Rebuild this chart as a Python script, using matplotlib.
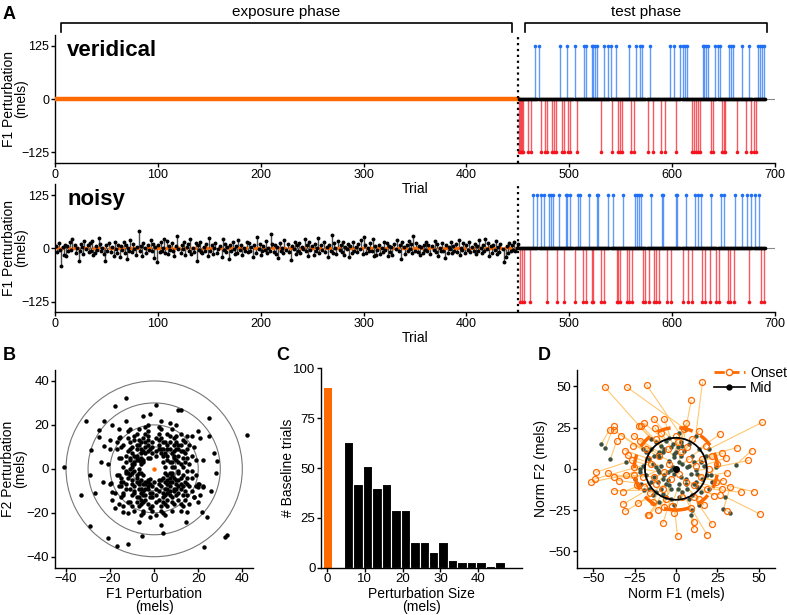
import numpy as np
import matplotlib.pyplot as plt
from matplotlib.patches import Circle, Ellipse
from matplotlib.lines import Line2D

plt.rcParams['font.family'] = ['Liberation Sans', 'DejaVu Sans']
plt.rcParams['axes.linewidth'] = 1.0

orange = '#FF6A00'
blue = '#1E6FF5'
red = '#F5141E'

# ---- panel A data ----
n_exposure = 450
test_first, test_last = 451, 690
test_shift = 125

ver_up = [467, 470, 491, 498, 505, 514, 516, 522, 523, 525, 527, 534, 538, 540, 545,
          558, 565, 569, 571, 578, 598, 602, 608, 610, 612, 614, 630, 631, 633, 635,
          642, 644, 646, 655, 657, 659, 668, 675, 683, 685, 687, 689]
ver_down = [451, 452, 453, 454, 455, 460, 463, 472, 476, 478, 483, 485, 487, 493, 495,
            499, 501, 507, 531, 541, 547, 549, 551, 560, 563, 576, 581, 589, 593, 604,
            619, 621, 623, 625, 627, 638, 640, 648, 650, 651, 663, 672, 677, 679, 681]
noi_up = [465, 469, 472, 475, 480, 482, 484, 490, 497, 498, 501, 508, 510, 519, 527,
          528, 538, 542, 552, 564, 566, 568, 570, 579, 590, 591, 604, 605, 613, 622,
          625, 628, 638, 647, 650, 661, 668, 673, 677, 680, 684]
noi_down = [452, 454, 456, 462, 478, 488, 495, 505, 513, 516, 522, 523, 531, 534, 546,
            547, 549, 556, 558, 561, 572, 574, 577, 582, 584, 587, 595, 599, 610, 615,
            619, 629, 632, 637, 643, 645, 654, 656, 660, 675, 686, 689]

# exposure trials with no perturbation in the noisy condition
baseline_trials = [3, 7, 14, 18, 22, 29, 31, 38, 42, 47, 53, 56, 62, 66, 74, 78, 81, 89,
                   92, 98, 101, 108, 113, 117, 121, 127, 133, 136, 144, 148, 152, 159,
                   161, 168, 172, 179, 183, 186, 194, 197, 203, 208, 212, 218, 224, 228,
                   231, 239, 242, 249, 251, 258, 263, 267, 274, 276, 283, 288, 292, 298,
                   303, 307, 314, 317, 322, 329, 333, 338, 341, 349, 352, 357, 364, 367,
                   373, 378, 381, 389, 392, 398, 404, 406, 413, 419, 423, 427, 434, 437,
                   442, 448]

# noisy perturbations (mels), in trial order: F1 and F2
pert_f1 = [6, -8, 12, -4, -41, 3, -15, 9, -19, 5,
           -7, 14, -3, 22, 8, -11, 1, -28.6, -6, 10,
           4, -13, 17, -2, 7, -9, 12, -5, 18, -16,
           -10, 6, -3, 25, 11, -7, 2, -14, -29, 9,
           -5, 13, -8, 3, -17, 15, -1, -12, 7, -20,
           5, -4, 16, -11, 8, -25, 2, -6, 20, -9,
           10, -2, -15, 4, 42, -7, 6, -18, 13, 0,
           -12, 7, -3, 19, -6, 11, -22.6, 3, -31, 9,
           -8, 14, -5, 2, 22.4, -10, 17, -14, 6, -4,
           12, -7, -19, 5, 28.6, -1, -11, 8, -2, 15,
           -16, 4, 10, -6, 21, -13, 1, -9, 13, -29,
           7, -3, 16, -8, -12, 3, -5, 11, -17, 24,
           -6, 9, -14, 2, 13, -10, -2, 6, -21, 21.8,
           -4, 11, -9, 4, -25, 8, -7, 15, -1, -13,
           5, -11, 20, -3, 9, -16, 1, -6, 14, -8,
           12, -5, 3, -19.8, 7, -10, 26, -2, 10, -15,
           -7, 6, -3, 17, -12, 2, -5, 33, 11, -9,
           8, -14, 4, -23, 13, -6, 1, -11, 19, -4,
           10, -8, -27, 5, -1, 15, -13, 7, -5, 12,
           -10, 3, -2, 21, -6, 9, -18, 14, -4, 6,
           -15, 11, -7, 2, 25, -12, 8, -3, 16, -9,
           4, -20, 7, -5, 32, -10, 12, 1, -14, 18,
           -3, 9, -8, 14, -16, 3, -1, 11, -21, 6,
           -12, 15, -6, 4, -9, 10, -2, 19, -13, 27,
           7, -11, 2, -5, 13, -7, 22, -17, 5, -15.6,
           -4, 9, -12.6, 1, -8, 16, -3, 12, -19, 6,
           -9, 4, -15, 11, -1, 20, -6, 8, -24, 14,
           3, -13, 7, -7, 17, -2, 10, -10, 28, -5,
           12, -8, 5, -16, 3.9, -11, 9, -4, 15, -6,
           8, -14, 6, -3, 18, -9, 11, -18, 1, -7,
           13, -5, -22.9, 7, -10, 3, -1, 14.4, -12, 5,
           -6, 10, -8, 20.5, -15, 2, -4, 12, -11, 8,
           -3, 15, -9, 4, -5.7, 11, -13, 6, -7, 19.8,
           1, -12, 9, -6, 22.3, -2, 13, -17, 5, -10,
           7, -4, 17, -14, 3, -8, 10, -1, -33, -20, 6,
           -11, 12, -5, 8, -3, 15, -7, 2, 10.7, -16]
pert_f2 = [-3, 4, -9, -7, 1, 9, -6, 5, 20, -12,
           -2, 3, 13, -8, -6, 9, -9, 8.6, -14, 12,
           6, -2, -4, -18, 15, -10, 27, 8, -13, 14,
           1, -17, -5, 23, -2, 11, 16, -12, -3, -9,
           3, 8, -6, -25.6, -35, -1, 7, 17, -4, -7,
           1, 10, 11, -15, 18, 17.6, -7, -21, -7, 3,
           -5, -11, 5, -15, 15.4, -7, 11, -11, -17, -6,
           -4, 3, 20, 4, 5, -11, 10.6, -19, 22, 8,
           -13, -6, -3, 11, -35.6, 7, 15, -19.6, -9, 16,
           2, -17, -10.6, 7, 3.5, -13, 12, -13, 5, -12,
           -3, -4, 15, -9, 14, 22, -21, -1, -3, -26,
           -8, 8, -8, 16, -34, 14, -12, 6, 9, -22,
           2, -16, 1, -5, 13, -7, 25, 4, 2, -19.5,
           -9, 9, 13, -11, 14.6, -2, -24, 5, 10, -9,
           -6, 4, 17, -16, 1, -16, 29, 7, -14, -3,
           -7, 14, -8, -6.5, 9, -12, -10, -7, 20, 10,
           0, -14, 5, -10, 8, 19, -19, -30, -5, 6,
           7, -6, 12, -6, 1, -5, -15, 18, -3, -12,
           -9, 9, -11, -21, -8, 15, -1, -2, 24, 11,
           -5, 7, -13, -12, 12, -4, 28.7, 7, -6, 16,
           -13, -14, 4, -10, 15, -20, 3, 17, 2, -8,
           -13, 13, 12, -10, -31, 2, -19, 6, 11, 10,
           -8, 11, -15, -10, 5, -17, 12, -1, -31.5, -11,
           14, -4, -2, 9, -19, 4, -22, -8, -7, 7.4,
           -6, 0, 13, -15, -12, 18, 4, -3, -2, 14.3,
           12, -10, 32.4, -12, 5, -16, -6, 16, -14, 6,
           -11, 3, -8, 11, -17, -15, 9, -19, 3, 12,
           -5, 6, 21, -13, 6, 9, -12, -17, -2, 4,
           -4, 11, -9, 18, -29.4, -3, 14, -14, -7, 3,
           -15, -11, 9, 11, -12.8, 2, 3, -18, 8, -6,
           5, -7, 21.9, -12, 10, 18, -11, -24, -2, 12,
           -16, -7, 6, -6.8, -4, 9, 19, -16, -9, 1,
           -9, 9, 15, -20, -30.5, -8, 3, -5, 13, -8.3,
           14, -15, 6, -11, -8.3, -4.5, -8, 12, -16, -2,
           -10, 7, -1, -17, 22, -4, 9, -19, -12, 9, -7,
           5, 8, -20, -3, 15, -19.6, -9, -14, 26.7, -8]
base_f1 = [0]
base_f2 = [0]
ring_radii = [10, 20, 30, 40]

# ---- panel C data ----
bin_edges = np.arange(4.5, 47.1, 2.5)
bin_counts = [63, 42, 51, 40, 42, 29, 29, 13, 13, 8, 13, 4, 3, 3, 3, 1, 3]
zero_count = 90

# ---- panel D data ----
onset_f1 = [-43, -29.6, -17.5, 16.1, 9.3, 52.4, 50.6, 47, 43.9, 45.8, 36.9, 39.5, 30.8,
            21.8, 18.8, 10.7, 10.7, 1, -7.9, -16.9, -23.2, -30.6, -31.7, -51.4, -48.8,
            -48.2, -41.1, -37.7, -34.7, -37.7, -32, -40.1, -37.7, -37.3, -35.7, -33.1,
            -30.6, -29.2, -25.6, -22.6, -21, -19.2, -13.5, -7.1, -12.5, 6.3, 26.4, 28.2,
            30.2, 30.8, 28.8, 27.8, 32.9, 26.4, 22.8, -7.1, -2.4, 11.1, -26.6, -25.6,
            -25.6, -23.6, -19.2, -15.9, -13.5, -10, -5, 3, 8, 12, 15, 6, -3, -8, -15,
            -18, -12, 0, 10, 18, 20, 19, 14, 4, -6, -14, -20, -17, -22, 5, 14, 22, 24,
            17, -1, -11, -26, -9, 9, 2, -4, 7, 11, -7, 16, -12, 1, -16, 25, -30]
onset_f2 = [49.6, 49.6, 50.6, 52.6, 41.5, 28.3, -27.3, -13.8, 5.1, 11.1, 12.8, -14.2,
            -25.3, -33.4, -39.9, -32.4, -36.4, -40.9, -33, -28.3, -20.9, -25.7, -21.3,
            -8.1, -6.1, -2, -2.6, -5.1, -7.1, -13.2, -13.8, 23.7, 25.7, 23.3, 17.2, 20.2,
            11.1, 8.1, 20.2, 26.3, 26.3, 27.7, 30.4, 30.4, 24.9, 27.7, 20.9, 9.5, 6.7,
            -2.4, -7.1, -12.1, -11.1, -15.6, -16.2, -23.3, -22.3, -17.2, 5.1, 1, -4,
            -10.1, -11.1, -14.8, -5.1, 8, 12, 10, 6, 2, -5, -8, -6, -12, 3, 12, 18, 20,
            18, 14, 0, -12, -18, -17, -18, -20, -5, 6, 17, 24, 23, 8, -8, -22, -27, -25,
            14, 22, -24, -3, 3, 13, -10, -2, 6, -9, 16, -28, 3, -4]
mid_f1 = [-15, 6, 2, 12, 4, 20, 30, 22, 24, 36.5, 18, 20, 33, 14, 10, 8, 9, -1, -3, -8,
          -12, -14, -16, -22, -20, -30, -25, -18, -21, -19, -15, -45.4, -42.7, -20,
          -39.7, -18, -16, -14, -10, -12, -9, -6, -4, -2, -7, 3, 14, 15, 17, 19, 16, 12,
          28.8, 15, 13, -4, 1, 6, -12, -10, -13, -11, -8, -6, -5, -4, -1, 2, 4, 7, 9, 3,
          -1, -5, -9, -10, -8, 0, 5, 10, 12, 11, 7, 2, -3, -9, -11, -13, -11, 1, 8, 11,
          13, 10, 2, -6, -15, -3, 4, 0, -2, 3, 6, -3, 8, -7, -1, -10, 21, -22]
mid_f2 = [18, 24, 22, 20, 14, 12, -17, -8, 1, 2.6, 8, -12, -27, -22, -25, -18, -28, -22,
          -18, -15, -14, -16, -12, -2, 2, 4, -6, -4, -9, -13, -8, 14.8, 12.6, 12, 5.7,
          10, 6, 3, 10, 16, 14, 17, 19, 15, 12, 16, 12, 4, 2, -4, -6, -8, -24.3, -14,
          -11, -10, -12, -9, 1, -2, -5, -8, -6, -9, -2, 5, 7, 4, 3, 1, -3, -5, -3, -7, 2,
          7, 10, 10, 11, 8, -1, -9, -12, -9, -12, -12, -1, 8, 9, 13, 15, 4, -3, -16, -17,
          -17, 12, 13, -14, -1, 1, 8, -6, -1, 2, -4, 9, -20, -4, 0]
onset_radius = (25.2, 25.0)
mid_radius = (18.7, 18.8)

# ---- figure ----
fig = plt.figure(figsize=(7.87, 6.15), dpi=100)
axA1 = fig.add_axes([0.0699, 0.7351, 0.915, 0.2088])
axA2 = fig.add_axes([0.0699, 0.4924, 0.915, 0.2088])
axB = fig.add_axes([0.0699, 0.0769, 0.252, 0.3215])
axC = fig.add_axes([0.408, 0.0769, 0.255, 0.3242])
axD = fig.add_axes([0.7328, 0.0769, 0.252, 0.3215])
axA2.patch.set_alpha(0)


def style(ax, fs):
    for s in ['top', 'right']:
        ax.spines[s].set_visible(False)
    ax.tick_params(direction='out', length=2.6, width=1, pad=1.5, labelsize=fs)


exp_trials = np.arange(1, n_exposure + 1)
test_trials = np.arange(test_first, test_last + 1)
is_base = np.isin(exp_trials, baseline_trials)
pert_trials = exp_trials[~is_base][:len(pert_f1)]
pert_vals = np.array(pert_f1[:len(pert_trials)])

for ax, up, down, label in [(axA1, ver_up, ver_down, 'veridical'),
                            (axA2, noi_up, noi_down, 'noisy')]:
    ax.axhline(0, color='#888888', lw=0.8, zorder=1)
    ax.vlines(up, 0, test_shift, color=blue, lw=1.0, alpha=0.7, zorder=2)
    ax.plot(up, np.full(len(up), test_shift), 'o', color=blue, ms=2.6, mew=0, zorder=3)
    ax.vlines(down, -test_shift, 0, color=red, lw=1.0, alpha=0.7, zorder=2)
    ax.plot(down, np.full(len(down), -test_shift), 'o', color=red, ms=2.6, mew=0, zorder=3)
    ax.plot(test_trials, np.zeros(len(test_trials)), 'o', color='k', ms=2.6, mew=0, zorder=4)
    if label == 'veridical':
        ax.plot(exp_trials, np.zeros(len(exp_trials)), color=orange, lw=3.2, zorder=3)
    else:
        ax.vlines(pert_trials, 0, pert_vals, color='#4a4a4a', lw=1.0, zorder=2)
        ax.plot(baseline_trials, np.zeros(len(baseline_trials)), 'o', color=orange,
                ms=2.6, mew=0, zorder=3)
        ax.plot(pert_trials, pert_vals, 'o', color='k', ms=2.8, mew=0, zorder=4)
    ax.axvline(450.5, color='k', ls=':', lw=1.6, zorder=5)
    ax.set_xlim(0, 700)
    ax.set_ylim(-150, 152)
    ax.set_xticks(range(0, 701, 100))
    ax.set_yticks([-125, 0, 125])
    ax.set_xlabel('Trial', fontsize=10, labelpad=1)
    ax.set_ylabel('F1 Perturbation\n(mels)', fontsize=10, linespacing=0.85)
    ax.yaxis.set_label_coords(-0.037, 0.5)
    ax.text(12, 102, label, fontsize=16, fontweight='bold', va='baseline')
    style(ax, 9)

# phase brackets above panel A
for x0, x1, name in [(6, 444, 'exposure phase'), (457, 692, 'test phase')]:
    axA1.plot([x0, x0, x1, x1], [157, 178, 178, 157], color='k', lw=1.2, clip_on=False)
    axA1.text((x0 + x1) / 2, 205, name, fontsize=11, ha='center', va='center')

# B
for r in ring_radii:
    axB.add_patch(Circle((0, 0), r, fill=False, ec='#777777', lw=0.8))
axB.plot(pert_f1, pert_f2, 'o', color='k', ms=3.2, mew=0)
axB.plot(base_f1, base_f2, 'o', color=orange, ms=3.2, mew=0)
axB.set_xlim(-45, 45)
axB.set_ylim(-45, 45)
axB.set_xticks([-40, -20, 0, 20, 40])
axB.set_yticks([-40, -20, 0, 20, 40])
axB.set_xlabel('F1 Perturbation\n(mels)', fontsize=10, labelpad=1, linespacing=0.95)
axB.set_ylabel('F2 Perturbation\n(mels)', fontsize=10, linespacing=0.85)
axB.yaxis.set_label_coords(-0.14, 0.5)
style(axB, 9.5)

# C
axC.bar(bin_edges[:-1], bin_counts, width=2.5, align='edge', color='k',
        edgecolor='white', lw=0.8)
axC.bar(0.3, zero_count, width=1.9, color=orange)
axC.set_xlim(-1.5, 51.5)
axC.set_ylim(0, 100)
axC.set_xticks([0, 10, 20, 30, 40])
axC.set_yticks([0, 25, 50, 75, 100])
axC.set_xlabel('Perturbation Size\n(mels)', fontsize=10, labelpad=1, linespacing=0.95)
axC.set_ylabel('# Baseline trials', fontsize=10)
axC.yaxis.set_label_coords(-0.13, 0.5)
style(axC, 9.5)

# D
axD.plot(np.vstack([onset_f1, mid_f1]), np.vstack([onset_f2, mid_f2]),
         color='#FFC870', lw=0.8, zorder=1)
axD.plot(mid_f1, mid_f2, 'o', color='#3D4F3D', ms=3.2, mew=0, zorder=2)
axD.plot(onset_f1, onset_f2, 'o', mfc='none', mec=orange, mew=0.9, ms=4.3, zorder=3)
axD.add_patch(Ellipse((0, 0), 2 * onset_radius[0], 2 * onset_radius[1], fill=False,
                      ec=orange, lw=2.5, ls=(0, (4, 2.5)), zorder=4))
axD.add_patch(Ellipse((0, 0), 2 * mid_radius[0], 2 * mid_radius[1], fill=False,
                      ec='k', lw=1.3, zorder=4))
axD.plot(base_f1, base_f2, 'o', color='k', ms=4, zorder=5)
axD.set_xlim(-60, 60)
axD.set_ylim(-60, 60)
axD.set_xticks([-50, -25, 0, 25, 50])
axD.set_yticks([-50, -25, 0, 25, 50])
axD.set_xlabel('Norm F1 (mels)', fontsize=10, labelpad=1)
axD.set_ylabel('Norm F2 (mels)', fontsize=10)
axD.yaxis.set_label_coords(-0.145, 0.5)
h_on = Line2D([], [], color=orange, ls='--', lw=2, marker='o', mfc='white', mec=orange, ms=4.5)
h_mid = Line2D([], [], color='k', lw=1.2, marker='o', ms=3.5)
axD.legend([h_on, h_mid], ['Onset', 'Mid'], loc='upper right', bbox_to_anchor=(1.09, 1.05),
           frameon=False, fontsize=10, handlelength=2.2, handletextpad=0.4,
           labelspacing=0.1, borderaxespad=0)
style(axD, 9.5)

for x, y, letter in [(0.003, 0.99, 'A'), (0.003, 0.435, 'B'), (0.351, 0.435, 'C'),
                     (0.683, 0.435, 'D')]:
    fig.text(x, y, letter, fontsize=13, fontweight='bold', va='top')

fig.savefig('out.png', dpi=100)
